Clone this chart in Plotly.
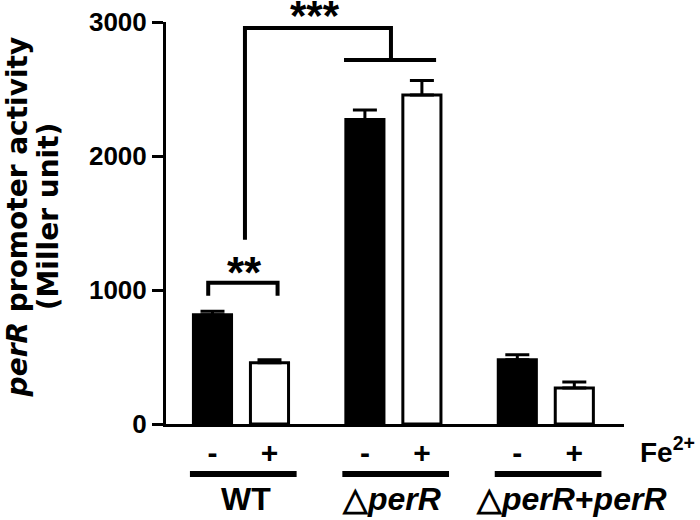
import plotly.graph_objects as go

# ---------------- data ----------------
groups = ["WT", "△<i>perR</i>", "△<i>perR</i>+<i>perR</i>"]
fe_labels = ["-", "+"]
values_minus = [815, 2272, 480]      # no Fe2+ (black bars)
errors_minus = [27, 72, 37]
values_plus = [458, 2455, 268]       # + Fe2+ (white bars)
errors_plus = [22, 108, 45]
y_ticks = [0, 1000, 2000, 3000]

# ---------------- layout helpers ----------------
offset = 0.187
gx = list(range(len(groups)))
x_minus = [g - offset for g in gx]
x_plus = [g + offset for g in gx]

AR = "Liberation Sans, Arial, sans-serif"
DJ = "DejaVu Sans, sans-serif"

fig = go.Figure()
fig.add_bar(
    x=x_minus, y=values_minus, width=0.25,
    marker=dict(color="black", line=dict(color="black", width=3)),
    error_y=dict(type="data", array=errors_minus, arrayminus=[0] * len(errors_minus),
                 symmetric=False, thickness=3, width=12, color="black"),
    showlegend=False,
)
fig.add_bar(
    x=x_plus, y=values_plus, width=0.25,
    marker=dict(color="white", line=dict(color="black", width=3)),
    error_y=dict(type="data", array=errors_plus, arrayminus=[0] * len(errors_plus),
                 symmetric=False, thickness=3, width=12, color="black"),
    showlegend=False,
)

tickvals = []
ticktext = []
for g in gx:
    tickvals += [x_minus[g], x_plus[g]]
    ticktext += fe_labels

fig.update_layout(
    width=700, height=520, autosize=False,
    margin=dict(l=166, r=76, t=22, b=96),
    paper_bgcolor="white", plot_bgcolor="white",
    barmode="overlay",
    xaxis=dict(range=[-0.492, 2.513], showgrid=False, zeroline=False, automargin=False,
               showline=True, linewidth=3, linecolor="black",
               tickvals=tickvals, ticktext=ticktext, ticks="",
               tickfont=dict(family=AR, size=30, color="black", weight="bold"),
               ticklabelstandoff=0),
    yaxis=dict(range=[0, 3000], showgrid=False, zeroline=False, automargin=False,
               showline=True, linewidth=3, linecolor="black",
               tickvals=y_ticks, ticks="outside", ticklen=11, tickwidth=3, tickcolor="black",
               tickfont=dict(family=AR, size=26, color="black", weight="bold")),
)

# significance brackets
line = dict(color="black", width=4)
fig.add_shape(type="path", xref="x", yref="y", line=line,
              path="M 0.026,1375 L 0.026,2955 L 0.984,2955 L 0.984,2717")
fig.add_shape(type="line", xref="x", yref="y", line=line,
              x0=0.676, x1=1.28, y0=2717, y1=2717)
fig.add_shape(type="path", xref="x", yref="y", line=line,
              path="M -0.215,958 L -0.215,1055 L 0.24,1055 L 0.24,958")

fig.add_annotation(x=0.486, y=1.017, xref="x", yref="paper", text="***", showarrow=False,
                   yanchor="middle", font=dict(family=AR, size=42, color="black", weight="bold"))
fig.add_annotation(x=0.026, y=1132, xref="x", yref="y", text="**", showarrow=False,
                   yanchor="middle", font=dict(family=AR, size=44, color="black", weight="bold"))

# group underlines and labels
label_shift = [0.033, -0.012, 0.169]
for g in gx:
    fig.add_shape(type="line", xref="x", yref="paper", line=dict(color="black", width=6),
                  x0=g - 0.335, x1=g + 0.365, y0=-0.1245, y1=-0.1245)
    fig.add_annotation(x=g + label_shift[g], y=-0.2373, xref="x", yref="paper",
                       text=groups[g], showarrow=False, yanchor="bottom", xanchor="center",
                       font=dict(family=AR, size=32, color="black", weight="bold"))

fig.add_annotation(x=1.0306, y=-0.064, xref="paper", yref="paper", text="Fe<sup>2+</sup>",
                   showarrow=False, xanchor="left", yanchor="middle",
                   font=dict(family=AR, size=28, color="black", weight="bold"))

# y-axis title (two lines)
fig.add_annotation(x=-0.324, y=0.5155, xref="paper", yref="paper",
                   text="<i>perR</i> promoter activity", textangle=-90, showarrow=False,
                   xanchor="center", yanchor="middle",
                   font=dict(family=DJ, size=28, color="black", weight="bold"))
fig.add_annotation(x=-0.2565, y=0.5155, xref="paper", yref="paper",
                   text="(Miller unit)", textangle=-90, showarrow=False,
                   xanchor="center", yanchor="middle",
                   font=dict(family=DJ, size=28, color="black", weight="bold"))

fig.write_html("out.html", config={"displayModeBar": False},
               post_script="document.body.style.margin='0';document.body.style.overflow='hidden';")
